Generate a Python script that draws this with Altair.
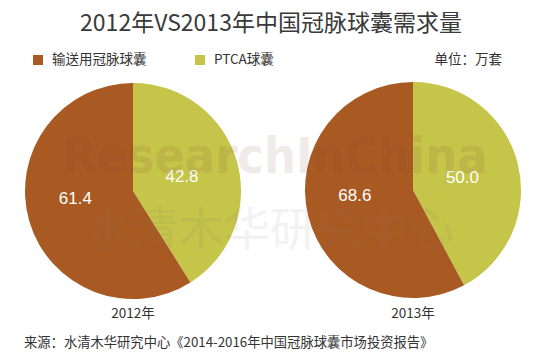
import altair as alt
import pandas as pd

years = ["2012年", "2013年"]
categories = ["输送用冠脉球囊", "PTCA球囊"]
delivery = [61.4, 68.6]
ptca = [42.8, 50.0]
colors = ["#A95A23", "#C5C54A"]

title_text = "2012年VS2013年中国冠脉球囊需求量"
unit_text = "单位：万套"
source_text = "来源：水清木华研究中心《2014-2016年中国冠脉球囊市场投资报告》"
wm1 = "ResearchInChina"
wm2 = "水清木华研究中心"

rows = []
for i, y in enumerate(years):
    rows.append({"year": y, "cat": categories[1], "value": ptca[i], "ord": 0})
    rows.append({"year": y, "cat": categories[0], "value": delivery[i], "ord": 1})
df = pd.DataFrame(rows)

W, H = 526, 342
centers = [(125, 183), (405, 182)]
R = 108
CJK = "Noto Sans CJK SC"

color_scale = alt.Scale(domain=categories, range=colors)


def txt(s, x, y, size, color="#333333", align="center", font=CJK, **kw):
    return alt.Chart(pd.DataFrame({"t": [s]})).mark_text(
        fontSize=size, color=color, align=align, baseline="middle", font=font, **kw
    ).encode(text="t:N", x=alt.value(x), y=alt.value(y))


layers = []

# watermark (behind pies? it sits over them faintly in the reference)
wm_layers = [
    txt(wm1, 267, 150, 50, color="#7a3a30", font="DejaVu Sans Condensed, DejaVu Sans",
        fontWeight="bold", opacity=0.1),
    txt(wm2, 262, 223, 46, color="#777777", opacity=0.09),
]

for i, y in enumerate(years):
    cx, cy = centers[i]
    base = alt.Chart(df).transform_filter(alt.datum.year == y)
    arc = base.mark_arc(outerRadius=R, x=cx, y=cy, stroke=None).encode(
        theta=alt.Theta("value:Q", stack=True),
        color=alt.Color("cat:N", scale=color_scale, legend=None),
        order=alt.Order("ord:Q"),
    )
    labs = []
    for c, rad, dy in [(categories[1], 51, 0), (categories[0], 60, -9)]:
        labs.append(
            base.mark_text(
                radius=rad, dy=dy, x=cx, y=cy, fontSize=17, color="white", font="Liberation Sans"
            ).encode(
                theta=alt.Theta("value:Q", stack=True),
                detail="cat:N",
                order=alt.Order("ord:Q"),
                text=alt.condition(alt.datum.cat == c, alt.Text("value:Q", format=".1f"), alt.value("")),
            )
        )
    layers.append(alt.layer(arc, *labs))
    layers.append(txt(y, cx, 306, 13.5))

layers.extend(wm_layers)

# legend
leg_df = pd.DataFrame({"cat": categories})
for j, c in enumerate(categories):
    sx = [30, 192][j]
    layers.append(
        alt.Chart(leg_df).transform_filter(alt.datum.cat == c).mark_square(size=100, opacity=1).encode(
            x=alt.value(sx), y=alt.value(52),
            color=alt.Color("cat:N", scale=color_scale, legend=None),
        )
    )
    layers.append(txt(c, sx + 14, 52, 13.5, align="left"))

layers.append(txt(unit_text, 494, 52, 13.5, align="right"))
layers.append(txt(title_text, 263, 16, 23, color="#3a3a3a"))
layers.append(txt(source_text, 16, 335, 13.3, align="left"))

chart = alt.layer(*layers).resolve_scale(theta="independent").properties(
    width=W, height=H, padding=0, autosize="none", background="white"
).configure_view(stroke=None)

chart.save("out.html", embed_options={"renderer": "svg", "actions": False})
